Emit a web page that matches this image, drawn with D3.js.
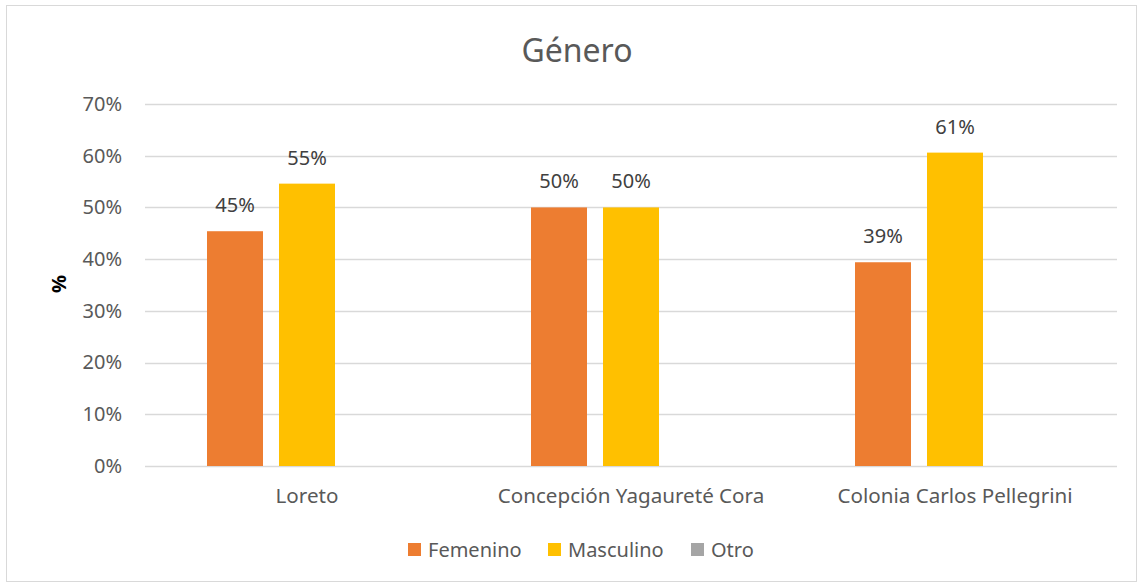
<!DOCTYPE html>
<html><head><meta charset="utf-8">
<script src="https://cdn.jsdelivr.net/npm/d3@7"></script>
<style>body{margin:0;background:#fff;}svg{display:block;font-family:"Noto Sans",sans-serif;}</style>
</head><body><svg id="c" width="1140" height="586"></svg>
<script>
const categories = ["Loreto", "Concepción Yagaureté Cora", "Colonia Carlos Pellegrini"];
const seriesNames = ["Femenino", "Masculino", "Otro"];
const femenino = [0.454, 0.50, 0.394];
const masculino = [0.546, 0.50, 0.606];
const otro = [0, 0, 0];
const yTicks = [0, 0.1, 0.2, 0.3, 0.4, 0.5, 0.6, 0.7];
const colors = ["#ED7D31", "#FFC000", "#A5A5A5"];

(function(){
const FF = "'Noto Sans', sans-serif";
const FS = 20;
const series = [femenino, masculino, otro];
const svg = d3.select("#c");
svg.append("rect").attr("x",6.5).attr("y",5.5).attr("width",1130).attr("height",576)
  .attr("fill","#fff").attr("stroke","#d9d9d9");

const pL=145,pR=1117,pT=104,pB=466;
const x0 = d3.scaleBand().domain(categories).range([pL,pR]).paddingInner(0).paddingOuter(0);
const y = d3.scaleLinear().domain([0,0.7]).range([pB,pT]);
const x1 = d3.scaleBand().domain(seriesNames).range([0,200]).paddingInner(16/72).paddingOuter(0);

svg.append("g").selectAll("line").data(yTicks).join("line")
  .attr("x1",pL).attr("x2",pR).attr("y1",d=>Math.round(y(d))+0.5).attr("y2",d=>Math.round(y(d))+0.5)
  .attr("stroke","#d9d9d9").attr("stroke-width",1.3);

const yAxis = d3.axisLeft(y).tickValues(yTicks).tickFormat(d3.format(".0%")).tickSize(0).tickPadding(0);
const ya = svg.append("g").attr("transform",`translate(${pL-23},0)`).call(yAxis);
ya.select(".domain").remove();
ya.selectAll("text").attr("font-size",FS).attr("fill","#595959").attr("font-family",FF);

const xAxis = d3.axisBottom(x0).tickSize(0).tickPadding(0);
const xa = svg.append("g").attr("transform",`translate(0,${pB+22})`).call(xAxis);
xa.select(".domain").remove();
xa.selectAll("text").attr("font-size",20.6).attr("fill","#595959").attr("font-family",FF);

const fmt = d3.format(".0%");
categories.forEach((c,i)=>{
  const gx = x0(c) + x0.bandwidth()/2 - 100;
  seriesNames.forEach((s,j)=>{
    const v = series[j][i];
    if (v<=0) return;
    const bx = gx + x1(s);
    svg.append("rect").attr("x",bx).attr("y",y(v)).attr("width",x1.bandwidth()).attr("height",y(0)-y(v))
      .attr("fill",colors[j]);
    svg.append("text").attr("x",bx+x1.bandwidth()/2).attr("y",y(v)-19).attr("text-anchor","middle")
      .attr("font-size",FS).attr("fill","#404040").text(fmt(v));
  });
});

svg.append("text").attr("x",577).attr("y",62).attr("text-anchor","middle").attr("font-size",32)
  .attr("fill","#595959").text("Género");

svg.append("text").attr("transform","translate(66,284) rotate(-90)").attr("text-anchor","middle")
  .attr("font-size",20).attr("font-weight","bold").attr("fill","#000").text("%");

const legX = [408, 548, 691];
const lg = svg.append("g");
seriesNames.forEach((s,j)=>{
  lg.append("rect").attr("x",legX[j]).attr("y",543).attr("width",13).attr("height",13).attr("fill",colors[j]);
  lg.append("text").attr("x",legX[j]+20).attr("y",557).attr("font-size",FS).attr("fill","#595959").text(s);
});
})();
</script></body></html>
